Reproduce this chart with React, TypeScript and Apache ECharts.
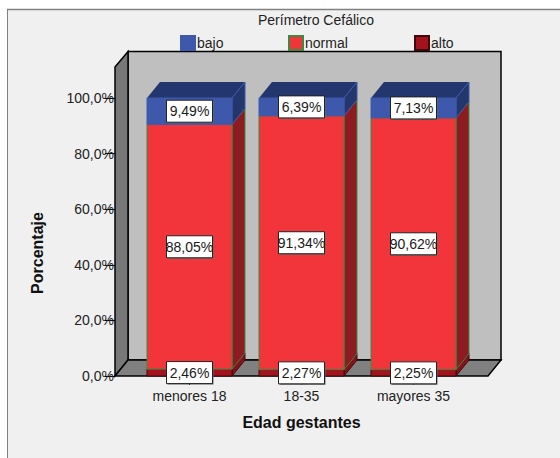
import React, { useEffect, useRef } from "react";
import * as echarts from "echarts";

const categories = ["menores 18", "18-35", "mayores 35"];
const altoValues = [2.46, 2.27, 2.25];
const normalValues = [88.05, 91.34, 90.62];
const bajoValues = [9.49, 6.39, 7.13];
const yTicks = [0, 20, 40, 60, 80, 100];

const FONT = '"Liberation Sans", Arial, sans-serif';
const DX = 13;
const DY = -16;
const BAR_RATIO = 85 / 112;
const fmt = (v: number) => v.toFixed(2).replace(".", ",") + "%";

function segmentSeries(
  name: string,
  values: number[],
  bases: number[],
  front: string,
  side: string,
  top: string,
  stroke: string
) {
  return {
    type: "custom",
    name,
    coordinateSystem: "cartesian2d",
    itemStyle: { color: front, borderColor: stroke, borderWidth: 1 },
    z: 3,
    encode: { x: 0, y: 2 },
    data: values.map((v, i) => [i, bases[i], bases[i] + v]),
    renderItem: (_: any, api: any) => {
      const c = api.value(0);
      const p0 = api.coord([c, api.value(1)]);
      const p1 = api.coord([c, api.value(2)]);
      const w = api.size([1, 0])[0] * BAR_RATIO;
      const x0 = p0[0] - w / 2;
      const x1 = p0[0] + w / 2;
      const yb = p0[1];
      const yt = p1[1];
      return {
        type: "group",
        children: [
          {
            type: "polygon",
            shape: { points: [[x0, yt], [x0 + DX, yt + DY], [x1 + DX, yt + DY], [x1, yt]] },
            style: { fill: top },
          },
          {
            type: "polygon",
            shape: { points: [[x1, yb], [x1 + DX, yb + DY], [x1 + DX, yt + DY], [x1, yt]] },
            style: { fill: side, stroke, lineWidth: 1 },
          },
          {
            type: "rect",
            shape: { x: x0, y: yt, width: w, height: yb - yt },
            style: { fill: front, stroke, lineWidth: 1 },
          },
        ],
      };
    },
  };
}

function labelSeries(values: number[], bases: number[]) {
  return {
    type: "custom",
    coordinateSystem: "cartesian2d",
    z: 5,
    silent: true,
    data: values.map((v, i) => [i, bases[i] + v / 2, v]),
    renderItem: (_: any, api: any) => {
      const p = api.coord([api.value(0), api.value(1)]);
      const bw = 46;
      const bh = 22;
      const x = p[0] - bw / 2;
      const y = p[1] - bh / 2;
      return {
        type: "group",
        children: [
          { type: "rect", shape: { x: x + 1, y: y + 1, width: bw, height: bh }, style: { fill: "#6a6a6a" } },
          {
            type: "rect",
            shape: { x, y, width: bw, height: bh },
            style: { fill: "#ffffff", stroke: "#222222", lineWidth: 1 },
          },
          {
            type: "text",
            style: {
              x: p[0],
              y: p[1],
              text: fmt(api.value(2)),
              align: "center",
              verticalAlign: "middle",
              fill: "#1a1a1a",
              font: `14px ${FONT}`,
            },
          },
        ],
      };
    },
  };
}

const normalBases = altoValues;
const bajoBases = altoValues.map((v, i) => v + normalValues[i]);
const altoBases = altoValues.map(() => 0);

function legendAt(name: string, left: number) {
  return {
    data: [name],
    left,
    top: 35,
    padding: 0,
    itemWidth: 14,
    itemHeight: 14,
    icon: "rect",
    textStyle: { fontFamily: FONT, fontSize: 14, color: "#1f1f1f", padding: [0, 0, 0, -3] },
  };
}

export default function App() {
  const ref = useRef<HTMLDivElement>(null);
  useEffect(() => {
    const chart = echarts.init(ref.current!, undefined, { renderer: "svg" });
    const wallStroke = { stroke: "#000000", lineWidth: 1.5 };
    chart.setOption({
      animation: false,
      backgroundColor: "#ffffff",
      title: {
        text: "Perímetro Cefálico",
        left: 258,
        top: 13,
        padding: 0,
        textStyle: { fontFamily: FONT, fontSize: 14, fontWeight: "normal", color: "#1f1f1f" },
      },
      legend: [legendAt("bajo", 180), legendAt("normal", 288), legendAt("alto", 414)],
      grid: { left: 133.5, width: 336, top: 98, height: 278 },
      xAxis: {
        type: "category",
        data: categories,
        name: "Edad gestantes",
        nameLocation: "middle",
        nameGap: 38,
        nameTextStyle: { fontFamily: FONT, fontSize: 16, fontWeight: "bold", color: "#111111" },
        axisLine: { show: false },
        axisTick: { show: true, alignWithLabel: true, length: 9, lineStyle: { color: "#000000" } },
        axisLabel: { fontFamily: FONT, fontSize: 14, color: "#222222", margin: 13 },
      },
      yAxis: {
        type: "value",
        min: 0,
        max: 100,
        interval: 20,
        offset: 18.5,
        name: "Porcentaje",
        nameLocation: "middle",
        nameGap: 70,
        nameRotate: 90,
        nameTextStyle: {
          fontFamily: FONT,
          fontSize: 16,
          fontWeight: "bold",
          color: "#111111",
          padding: [0, 32, 0, 0],
        },
        splitLine: { show: false },
        axisLine: { show: false },
        axisTick: { show: true, length: 10, lineStyle: { color: "#000000" } },
        axisLabel: {
          fontFamily: FONT,
          fontSize: 14,
          color: "#222222",
          margin: 1,
          customValues: yTicks,
          formatter: (v: number) => v.toFixed(1).replace(".", ",") + "%",
        },
      },
      graphic: [
        { type: "rect", z: -10, shape: { x: 7, y: 9, width: 553, height: 449 }, style: { fill: "#f0f0f0" } },
        { type: "line", z: -9, shape: { x1: 7, y1: 9.5, x2: 560, y2: 9.5 }, style: { stroke: "#808080", lineWidth: 1.5 } },
        { type: "line", z: -9, shape: { x1: 7.5, y1: 9, x2: 7.5, y2: 458 }, style: { stroke: "#808080", lineWidth: 1 } },
        {
          type: "rect",
          z: -8,
          shape: { x: 128, y: 51.5, width: 373, height: 308.5 },
          style: { fill: "#bfbfbf", ...wallStroke },
        },
        {
          type: "polygon",
          z: -7,
          shape: { points: [[115, 67], [128, 51.5], [128, 360], [115, 376]] },
          style: { fill: "#787878", ...wallStroke },
        },
        {
          type: "polygon",
          z: -7,
          shape: { points: [[115, 376], [488, 376], [501, 360], [128, 360]] },
          style: { fill: "#808080", ...wallStroke },
        },
      ],
      series: [
        segmentSeries("alto", altoValues, altoBases, "#a5121d", "#8a0f18", "#8a0f18", "#3a0a0c"),
        segmentSeries("normal", normalValues, normalBases, "#f2343b", "#8f1b22", "#8f1b22", "#3b8a40"),
        segmentSeries("bajo", bajoValues, bajoBases, "#3e59ab", "#24366e", "#24366e", "#3e59ab"),
        labelSeries(altoValues, altoBases),
        labelSeries(normalValues, normalBases),
        labelSeries(bajoValues, bajoBases),
      ],
    });
    return () => chart.dispose();
  }, []);
  return <div ref={ref} style={{ position: "absolute", left: 0, top: 0, width: 560, height: 458 }} />;
}
